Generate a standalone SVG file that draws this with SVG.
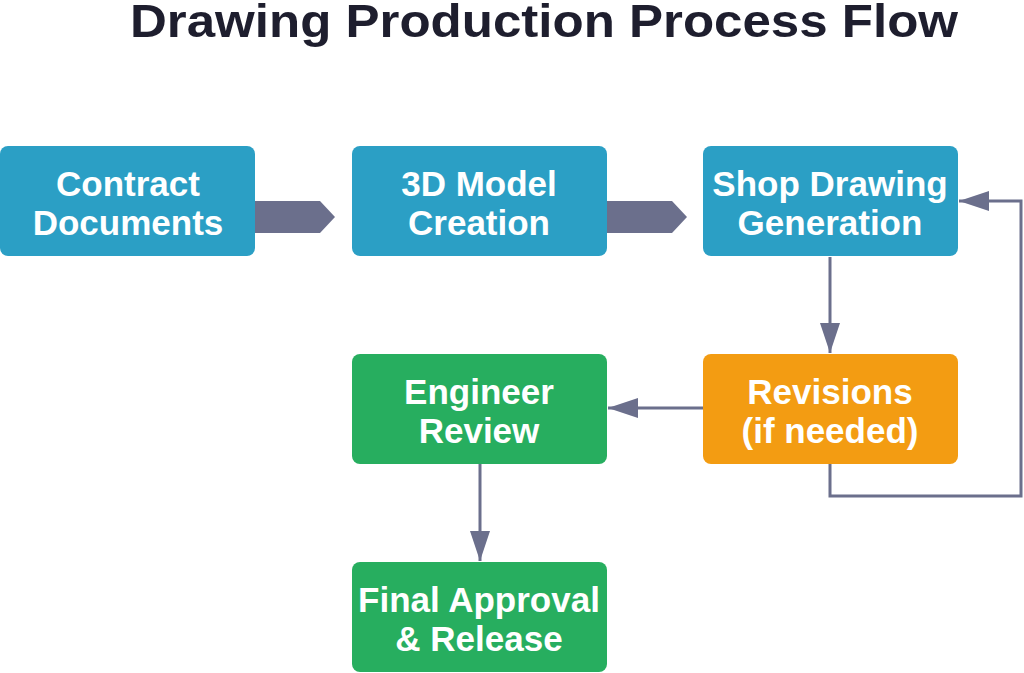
<svg xmlns="http://www.w3.org/2000/svg" width="1024" height="673" viewBox="0 0 1024 673">
<style>
.box{stroke:none}
.blue{fill:#2B9FC5}
.green{fill:#27AE5F}
.orange{fill:#F39C12}
.lbl{font-family:"Liberation Sans",Arial,sans-serif;font-weight:bold;font-size:35px;fill:#ffffff;text-anchor:middle}
.title{font-family:"Liberation Sans",Arial,sans-serif;font-weight:bold;font-size:47px;fill:#1E1E2E;text-anchor:middle}
.conn{fill:none;stroke:#6B6F8C;stroke-width:3}
.fat{fill:#6B6F8C}
</style>
<defs>
<marker id="ah" markerWidth="30" markerHeight="20" refX="30" refY="10" orient="auto" markerUnits="userSpaceOnUse">
<path d="M0,0 L30,10 L0,20 z" fill="#6B6F8C"/>
</marker>
</defs>
<rect width="1024" height="673" fill="#ffffff"/>
<text class="title" x="544" y="37" textLength="828" lengthAdjust="spacingAndGlyphs">Drawing Production Process Flow</text>
<g id="connectors">
<polygon class="fat" points="255,201 320,201 335,217 320,233 255,233"/>
<polygon class="fat" points="607,201 672,201 687,217 672,233 607,233"/>
<path class="conn" d="M830,257 L830,353" marker-end="url(#ah)"/>
<path class="conn" d="M703,408 L608,408" marker-end="url(#ah)"/>
<path class="conn" d="M480,464 L480,561" marker-end="url(#ah)"/>
<path class="conn" d="M830,464 L830,496 L1021,496 L1021,201 L959,201" marker-end="url(#ah)"/>
</g>
<g id="n1">
<rect class="box blue" x="0" y="146" width="255" height="110" rx="8"/>
<text class="lbl" x="128" y="196">Contract</text>
<text class="lbl" x="128" y="235">Documents</text>
</g>
<g id="n2">
<rect class="box blue" x="352" y="146" width="255" height="110" rx="8"/>
<text class="lbl" x="479" y="196">3D Model</text>
<text class="lbl" x="479" y="235">Creation</text>
</g>
<g id="n3">
<rect class="box blue" x="703" y="146" width="255" height="110" rx="8"/>
<text class="lbl" x="830" y="196">Shop Drawing</text>
<text class="lbl" x="830" y="235">Generation</text>
</g>
<g id="n4">
<rect class="box orange" x="703" y="354" width="255" height="110" rx="8"/>
<text class="lbl" x="830" y="404">Revisions</text>
<text class="lbl" x="830" y="443">(if needed)</text>
</g>
<g id="n5">
<rect class="box green" x="352" y="354" width="255" height="110" rx="8"/>
<text class="lbl" x="479" y="404">Engineer</text>
<text class="lbl" x="479" y="443">Review</text>
</g>
<g id="n6">
<rect class="box green" x="352" y="562" width="255" height="110" rx="8"/>
<text class="lbl" x="479" y="612">Final Approval</text>
<text class="lbl" x="479" y="651">&amp; Release</text>
</g>
</svg>
